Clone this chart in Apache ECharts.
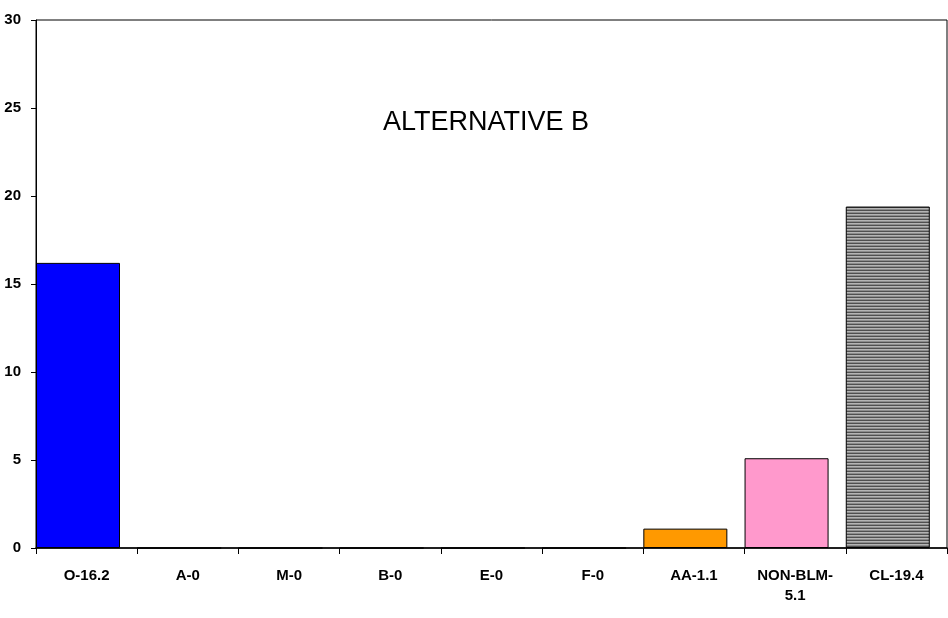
<!DOCTYPE html>
<html>
<head>
<meta charset="utf-8">
<script src="https://cdn.jsdelivr.net/npm/echarts@6/dist/echarts.min.js"></script>
<style>
body { margin: 0; background: #fff; }
#chart { width: 948px; height: 618px; }
</style>
</head>
<body>
<div id="chart"></div>
<script>
// data
var categories = ['O-16.2', 'A-0', 'M-0', 'B-0', 'E-0', 'F-0', 'AA-1.1', 'NON-BLM-\n5.1', 'CL-19.4'];
var values = [16.2, 0, 0, 0, 0, 0, 1.1, 5.1, 19.4];
var yTicks = [0, 5, 10, 15, 20, 25, 30];

// striped grey fill for the CL bar
function stripes() {
    var c = document.createElement('canvas');
    c.width = 4; c.height = 3;
    var ctx = c.getContext('2d');
    var rows = ['#505050', '#b4b4b4', '#8c8c8c'];
    for (var i = 0; i < rows.length; i++) {
        ctx.fillStyle = rows[i];
        ctx.fillRect(0, i, 4, 1);
    }
    return { image: c, repeat: 'repeat' };
}

var barColors = ['#0000ff', '#0000ff', '#0000ff', '#0000ff', '#0000ff', '#0000ff', '#ff9900', '#ff99cc', stripes()];

var chart = echarts.init(document.getElementById('chart'));
chart.setOption({
    animation: false,
    title: {
        text: 'ALTERNATIVE B',
        left: 378, top: 104,
        textStyle: { fontFamily: 'Liberation Sans', fontWeight: 'normal', fontSize: 27, color: '#000' }
    },
    grid: {
        left: 36, right: 1, top: 20, bottom: 70,
        show: true, borderColor: '#000', borderWidth: 1
    },
    xAxis: {
        type: 'category',
        data: categories,
        axisLine: { lineStyle: { color: '#000', width: 1.5 } },
        axisTick: { show: true, alignWithLabel: false, length: 6, lineStyle: { color: '#000', width: 1 } },
        axisLabel: {
            interval: 0, margin: 18, color: '#000',
            fontFamily: 'Liberation Sans', fontWeight: 'bold', fontSize: 15, lineHeight: 20
        }
    },
    yAxis: {
        type: 'value',
        min: yTicks[0], max: yTicks[yTicks.length - 1], interval: 5,
        splitLine: { show: false },
        axisLine: { show: true, lineStyle: { color: '#000' } },
        axisTick: { show: true, length: 5, lineStyle: { color: '#000' } },
        axisLabel: {
            margin: 15, color: '#000',
            fontFamily: 'Liberation Sans', fontWeight: 'bold', fontSize: 15
        }
    },
    series: [
        {
            type: 'bar',
            data: values.map(function (v, i) {
                return { value: v, itemStyle: { color: barColors[i] } };
            }),
            barWidth: '83%',
            barGap: 0,
            barCategoryGap: '0%',
            itemStyle: { borderColor: '#000', borderWidth: 1 }
        },
        {
            // empty spacer so the bars sit at the left of each category like the original
            type: 'bar',
            data: [],
            barWidth: '17%',
            barGap: 0,
            barCategoryGap: '0%'
        }
    ]
});
</script>
</body>
</html>
